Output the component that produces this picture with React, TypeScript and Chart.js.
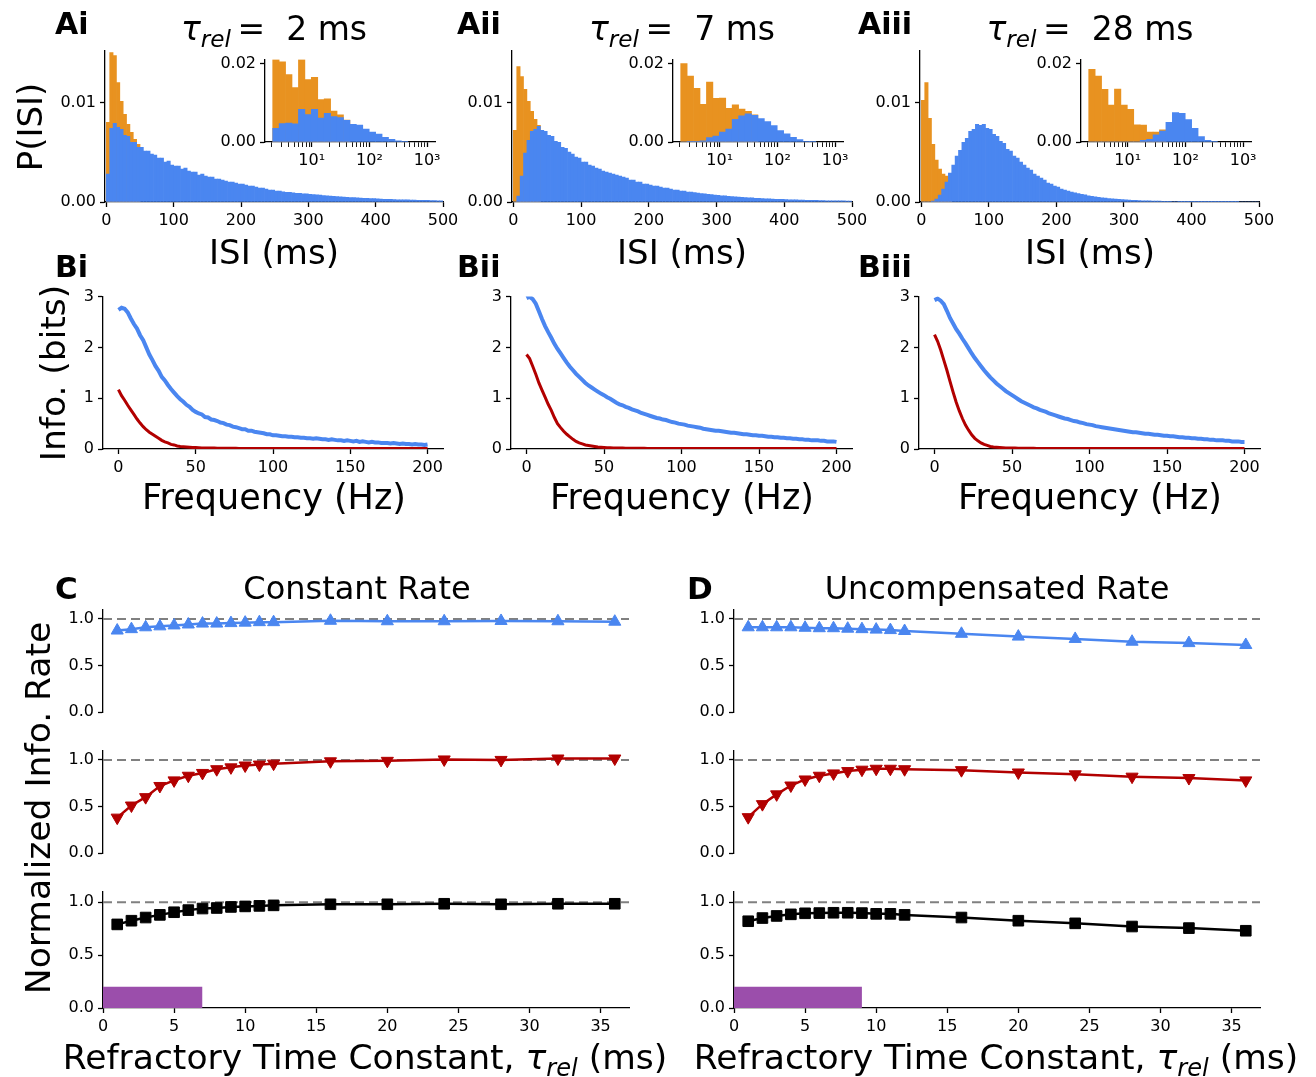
import React, { useEffect, useRef } from "react";
import { Chart, registerables } from "chart.js";

Chart.register(...registerables);

const FONT = "'DejaVu Sans', 'Liberation Sans', sans-serif";
const BLUE = "rgb(74,134,240)";
const ORANGE = "rgb(232,146,32)";
const RED = "rgb(178,0,0)";
const BLACK = "#000000";
const PURPLE = "rgb(155,78,171)";
const GREY = "rgb(128,128,128)";

// ---------------- Data: ISI histograms (5 ms bins, 0-500 ms) ----------------
const ISI_BIN_MS = 5;
const isiTicks = [0, 100, 200, 300, 400, 500];
const isiYTicks = [0, 0.01];

const isiBlueTau2 = [
  0.0028, 0.0074, 0.0079, 0.0075, 0.0073, 0.0067, 0.0066, 0.006, 0.006, 0.0055,
  0.0055, 0.0051, 0.0051, 0.0048, 0.0047, 0.0044, 0.0044, 0.004, 0.0041, 0.0037,
  0.0036, 0.0036, 0.0033, 0.0034, 0.0031, 0.003, 0.003, 0.0027, 0.0028, 0.0026,
  0.0025, 0.0025, 0.0023, 0.0023, 0.0022, 0.0021, 0.002, 0.002, 0.0019, 0.0018,
  0.0018, 0.0017, 0.0016, 0.0016, 0.0015, 0.0014, 0.0014, 0.0013, 0.0012, 0.0012,
  0.0011, 0.0011, 0.00102, 0.00098, 0.00096, 0.00092, 0.00088, 0.00087, 0.00082, 0.00081,
  0.00078, 0.00075, 0.00071, 0.00069, 0.00065, 0.00063, 0.00059, 0.00058, 0.00054, 0.00053,
  0.0005, 0.00048, 0.00045, 0.00044, 0.00041, 0.0004, 0.00037, 0.00036, 0.00034, 0.00034,
  0.00032, 0.0003, 0.00028, 0.00028, 0.00026, 0.00025, 0.00023, 0.00023, 0.00021, 0.00021,
  0.0002, 0.00019, 0.00018, 0.00017, 0.00016, 0.00016, 0.00015, 0.00014, 0.00013, 0.00013,
];
const isiOrangeTau2 = [0.008, 0.015, 0.0147, 0.012, 0.0101, 0.0088, 0.0078, 0.007, 0.0063, 0.0058];

const isiBlueTau7 = [
  0.0, 0.0006, 0.0026, 0.0049, 0.0062, 0.0071, 0.0073, 0.0076, 0.0072, 0.0071,
  0.0067, 0.0066, 0.0061, 0.006, 0.0055, 0.0054, 0.005, 0.0048, 0.0045, 0.0044,
  0.004, 0.004, 0.0037, 0.0036, 0.0034, 0.0033, 0.0031, 0.003, 0.0029, 0.0028,
  0.0027, 0.0026, 0.0025, 0.0024, 0.0022, 0.0022, 0.002, 0.002, 0.0018, 0.0018,
  0.0017, 0.0016, 0.0016, 0.0015, 0.0014, 0.0014, 0.0013, 0.0012, 0.0012, 0.0011,
  0.0011, 0.001, 0.001, 0.00094, 0.0009, 0.00085, 0.00082, 0.00077, 0.00075, 0.0007,
  0.00068, 0.00063, 0.00061, 0.00057, 0.00055, 0.00051, 0.00049, 0.00046, 0.00045, 0.00042,
  0.00041, 0.00038, 0.00037, 0.00034, 0.00033, 0.00031, 0.0003, 0.00028, 0.00027, 0.00026,
  0.00025, 0.00023, 0.00022, 0.00021, 0.0002, 0.00019, 0.00018, 0.00017, 0.00016, 0.00016,
  0.00015, 0.00014, 0.00013, 0.00013, 0.00012, 0.00012, 0.00011, 0.00011, 0.0001, 0.0001,
];
const isiOrangeTau7 = [0.0072, 0.0136, 0.0126, 0.0113, 0.0101, 0.0091, 0.0083, 0.0077];

const isiBlueTau28 = [
  0.0, 0.0, 0.0, 0.0001, 0.0003, 0.0007, 0.0013, 0.002, 0.0029, 0.0037,
  0.0046, 0.0052, 0.006, 0.0064, 0.0071, 0.0073, 0.0078, 0.0077, 0.0078, 0.0074,
  0.0073, 0.0068, 0.0066, 0.0061, 0.0059, 0.0053, 0.0051, 0.0046, 0.0044, 0.004,
  0.0037, 0.0034, 0.0032, 0.0028, 0.0026, 0.0024, 0.0022, 0.0019, 0.0018, 0.0016,
  0.0015, 0.0013, 0.0012, 0.0011, 0.001, 0.00092, 0.00085, 0.00076, 0.00071, 0.00063,
  0.00058, 0.00051, 0.00048, 0.00043, 0.00039, 0.00035, 0.00033, 0.00029, 0.00027, 0.00024,
  0.00022, 0.0002, 0.00018, 0.00016, 0.00015, 0.00013, 0.00012, 0.00011, 0.0001, 0.00009,
  0.00008, 0.00007, 0.00007, 0.00006, 0.00005, 0.00005, 0.00004, 0.00004, 0.00003, 0.00003,
  0.00003, 0.00002, 0.00002, 0.00002, 0.00002, 0.00001, 0.00001, 0.00001, 0.00001, 0.00001,
  0.00001, 0.00001, 0.00001, 0.00001, 0.0, 0.0, 0.0, 0.0, 0.0, 0.0,
];
const isiOrangeTau28 = [0.0102, 0.012, 0.0084, 0.0058, 0.0042, 0.0033, 0.0028, 0.0026, 0.0025];

// ---------------- Data: inset log-binned histograms ----------------
const INSET_LOG_START = 0.324; // log10 of first bin edge (ms)
const INSET_LOG_STEP = 0.1115; // bin width in decades
const INSET_X_MIN = 1.55;
const INSET_X_MAX = 1370;
const insetYTicks = [0, 0.02];
const insetXTicks = [2, 3, 4, 5, 6, 7, 8, 9, 10, 20, 30, 40, 50, 60, 70, 80, 90, 100, 200, 300, 400, 500, 600, 700, 800, 900, 1000];

const logBlueTau2 = [0.0035, 0.0047, 0.0048, 0.0046, 0.0083, 0.007, 0.0083, 0.0061, 0.0073, 0.0065, 0.0062, 0.0055, 0.0045, 0.0043, 0.0033, 0.0025, 0.002, 0.0012, 0.0007, 0.0003, 0.0001];
const logOrangeTau2 = [0.021, 0.0204, 0.0172, 0.0139, 0.021, 0.0159, 0.0165, 0.0108, 0.011, 0.0079, 0.0069, 0.0056];
const logBlueTau7 = [0.0, 0.0001, 0.0002, 0.0003, 0.0011, 0.0015, 0.0025, 0.0033, 0.0058, 0.0067, 0.0072, 0.0068, 0.006, 0.0052, 0.0042, 0.0029, 0.0021, 0.0012, 0.0006, 0.0002, 0.0001];
const logOrangeTau7 = [0.02, 0.0168, 0.0137, 0.0096, 0.0153, 0.0111, 0.0112, 0.0086, 0.0095, 0.0084, 0.0078, 0.0069];
const logBlueTau28 = [0, 0, 0, 0, 0, 0, 0, 0, 0.0004, 0.0007, 0.0018, 0.0028, 0.005, 0.0075, 0.0073, 0.0057, 0.0035, 0.0014, 0.0004, 0.0001];
const logOrangeTau28 = [0.0185, 0.0168, 0.0134, 0.0094, 0.0135, 0.0094, 0.0083, 0.0044, 0.0043, 0.0025, 0.0025, 0.0031];

// ---------------- Data: information spectra (2 Hz steps, 0-200 Hz) ----------------
const FREQ_STEP_HZ = 2;
const freqTicks = [0, 50, 100, 150, 200];
const infoYTicks = [0, 1, 2, 3];

const infoBlueTau2 = [
  2.74, 2.78, 2.76, 2.69, 2.57, 2.46, 2.37, 2.24, 2.14, 2.0,
  1.86, 1.75, 1.63, 1.54, 1.42, 1.35, 1.26, 1.18, 1.11, 1.04,
  0.98, 0.93, 0.87, 0.83, 0.77, 0.73, 0.7, 0.68, 0.63, 0.62,
  0.58, 0.57, 0.55, 0.52, 0.51, 0.48, 0.47, 0.44, 0.43, 0.41,
  0.39, 0.39, 0.36, 0.36, 0.34, 0.33, 0.32, 0.31, 0.29, 0.29,
  0.27, 0.27, 0.26, 0.25, 0.25, 0.24, 0.24, 0.23, 0.23, 0.22,
  0.22, 0.21, 0.21, 0.2, 0.21, 0.2, 0.19, 0.19, 0.18, 0.19,
  0.18, 0.17, 0.17, 0.16, 0.17, 0.16, 0.15, 0.16, 0.14, 0.15,
  0.14, 0.13, 0.14, 0.13, 0.13, 0.12, 0.12, 0.12, 0.11, 0.12,
  0.11, 0.1, 0.11, 0.1, 0.1, 0.09, 0.1, 0.09, 0.09, 0.08,
  0.09,
];
const infoRedTau2 = [
  1.17, 1.05, 0.96, 0.86, 0.77, 0.68, 0.59, 0.51, 0.44, 0.38,
  0.33, 0.29, 0.25, 0.21, 0.17, 0.14, 0.12, 0.09, 0.08, 0.06,
  0.05, 0.045, 0.04, 0.036, 0.03, 0.03, 0.026, 0.022, 0.02, 0.02,
  0.02, 0.018, 0.017, 0.016, 0.016, 0.015, 0.014, 0.014, 0.013, 0.012,
  0.012, 0.012, 0.011, 0.011, 0.011, 0.011, 0.01, 0.01, 0.01, 0.01,
  0.01, 0.011, 0.01, 0.009, 0.01, 0.01, 0.011, 0.01, 0.009, 0.01,
  0.01, 0.01, 0.011, 0.01, 0.009, 0.01, 0.01, 0.011, 0.01, 0.01,
  0.009, 0.01, 0.01, 0.011, 0.01, 0.01, 0.009, 0.01, 0.01, 0.011,
  0.01, 0.01, 0.009, 0.01, 0.011, 0.01, 0.01, 0.009, 0.01, 0.01,
  0.011, 0.01, 0.01, 0.009, 0.01, 0.01, 0.011, 0.01, 0.01, 0.01,
  0.01,
];
const infoBlueTau7 = [
  2.97, 3.0, 2.95, 2.86, 2.71, 2.56, 2.42, 2.3, 2.19, 2.07,
  1.97, 1.88, 1.79, 1.7, 1.62, 1.55, 1.48, 1.42, 1.36, 1.3,
  1.25, 1.21, 1.17, 1.13, 1.09, 1.06, 1.02, 0.99, 0.95, 0.91,
  0.88, 0.86, 0.83, 0.81, 0.78, 0.76, 0.74, 0.71, 0.69, 0.67,
  0.65, 0.63, 0.61, 0.6, 0.58, 0.57, 0.55, 0.53, 0.52, 0.5,
  0.49, 0.48, 0.46, 0.45, 0.44, 0.43, 0.42, 0.4, 0.39, 0.38,
  0.37, 0.36, 0.36, 0.35, 0.34, 0.33, 0.32, 0.32, 0.31, 0.3,
  0.29, 0.29, 0.28, 0.27, 0.27, 0.26, 0.26, 0.25, 0.24, 0.24,
  0.23, 0.23, 0.22, 0.22, 0.21, 0.21, 0.2, 0.2, 0.19, 0.19,
  0.18, 0.18, 0.17, 0.17, 0.17, 0.16, 0.16, 0.15, 0.15, 0.15,
  0.14,
];
const infoRedTau7 = [
  1.86, 1.78, 1.63, 1.47, 1.3, 1.16, 1.02, 0.88, 0.76, 0.62,
  0.5, 0.42, 0.35, 0.29, 0.24, 0.19, 0.15, 0.12, 0.1, 0.08,
  0.07, 0.06, 0.05, 0.04, 0.035, 0.03, 0.025, 0.025, 0.02, 0.02,
  0.02, 0.018, 0.017, 0.016, 0.015, 0.015, 0.014, 0.013, 0.013, 0.012,
  0.012, 0.011, 0.011, 0.011, 0.01, 0.01, 0.011, 0.01, 0.01, 0.009,
  0.01, 0.01, 0.011, 0.01, 0.009, 0.01, 0.01, 0.011, 0.01, 0.01,
  0.009, 0.01, 0.01, 0.011, 0.01, 0.01, 0.009, 0.01, 0.01, 0.011,
  0.01, 0.01, 0.009, 0.01, 0.011, 0.01, 0.01, 0.009, 0.01, 0.01,
  0.011, 0.01, 0.01, 0.009, 0.01, 0.01, 0.011, 0.01, 0.01, 0.01,
  0.009, 0.01, 0.01, 0.011, 0.01, 0.01, 0.009, 0.01, 0.01, 0.01,
  0.01,
];
const infoBlueTau28 = [
  2.93, 2.96, 2.92, 2.85, 2.72, 2.58, 2.47, 2.36, 2.27, 2.17,
  2.08, 1.98, 1.88, 1.79, 1.71, 1.63, 1.55, 1.48, 1.41, 1.35,
  1.29, 1.24, 1.19, 1.14, 1.1, 1.06, 1.02, 0.98, 0.94, 0.91,
  0.88, 0.85, 0.82, 0.8, 0.77, 0.75, 0.73, 0.7, 0.68, 0.66,
  0.64, 0.62, 0.6, 0.59, 0.57, 0.55, 0.54, 0.52, 0.51, 0.49,
  0.48, 0.47, 0.45, 0.44, 0.43, 0.42, 0.41, 0.4, 0.39, 0.38,
  0.37, 0.36, 0.35, 0.34, 0.33, 0.33, 0.32, 0.31, 0.3, 0.3,
  0.29, 0.28, 0.28, 0.27, 0.26, 0.26, 0.25, 0.25, 0.24, 0.23,
  0.23, 0.22, 0.22, 0.21, 0.21, 0.2, 0.2, 0.19, 0.19, 0.18,
  0.18, 0.17, 0.17, 0.17, 0.16, 0.16, 0.15, 0.15, 0.15, 0.14,
  0.14,
];
const infoRedTau28 = [
  2.25, 2.12, 1.95, 1.75, 1.55, 1.33, 1.12, 0.92, 0.75, 0.6,
  0.47, 0.37, 0.28, 0.21, 0.16, 0.12, 0.09, 0.07, 0.05, 0.04,
  0.035, 0.03, 0.025, 0.02, 0.02, 0.02, 0.018, 0.016, 0.015, 0.015,
  0.014, 0.014, 0.013, 0.012, 0.012, 0.011, 0.011, 0.011, 0.01, 0.01,
  0.01, 0.011, 0.01, 0.009, 0.01, 0.01, 0.011, 0.01, 0.009, 0.01,
  0.01, 0.01, 0.011, 0.01, 0.009, 0.01, 0.01, 0.011, 0.01, 0.01,
  0.009, 0.01, 0.01, 0.011, 0.01, 0.01, 0.009, 0.01, 0.01, 0.011,
  0.01, 0.01, 0.009, 0.01, 0.011, 0.01, 0.01, 0.009, 0.01, 0.01,
  0.011, 0.01, 0.01, 0.009, 0.01, 0.01, 0.011, 0.01, 0.01, 0.01,
  0.009, 0.01, 0.01, 0.011, 0.01, 0.01, 0.009, 0.01, 0.01, 0.01,
  0.01,
];

// ---------------- Data: normalized information rate vs tau_rel ----------------
const tauRel = [1, 2, 3, 4, 5, 6, 7, 8, 9, 10, 11, 12, 16, 20, 24, 28, 32, 36];
const tauTicks = [0, 5, 10, 15, 20, 25, 30, 35];
const rateYTicks = [0, 0.5, 1.0];
const constBlue = [0.875, 0.89, 0.91, 0.92, 0.93, 0.94, 0.95, 0.95, 0.955, 0.96, 0.965, 0.965, 0.98, 0.975, 0.975, 0.978, 0.975, 0.97];
const constRed = [0.38, 0.51, 0.6, 0.72, 0.78, 0.83, 0.86, 0.9, 0.92, 0.94, 0.95, 0.96, 0.985, 0.99, 1.005, 1.0, 1.015, 1.015];
const constBlack = [0.79, 0.825, 0.855, 0.88, 0.905, 0.925, 0.94, 0.945, 0.955, 0.96, 0.965, 0.97, 0.98, 0.98, 0.985, 0.98, 0.985, 0.985];
const uncompBlue = [0.91, 0.91, 0.91, 0.91, 0.905, 0.9, 0.9, 0.895, 0.89, 0.885, 0.88, 0.87, 0.84, 0.81, 0.785, 0.755, 0.74, 0.72];
const uncompRed = [0.385, 0.525, 0.63, 0.725, 0.79, 0.83, 0.855, 0.88, 0.895, 0.905, 0.905, 0.9, 0.89, 0.865, 0.845, 0.82, 0.805, 0.78];
const uncompBlack = [0.82, 0.85, 0.87, 0.885, 0.895, 0.897, 0.9, 0.9, 0.897, 0.89, 0.89, 0.88, 0.855, 0.825, 0.8, 0.77, 0.755, 0.73];
const referenceLevel = 1.0;
const shadeHeight = 0.2;
const shadeEndConst = 7;
const shadeEndUncomp = 9;

// ---------------- Layout helpers ----------------
type Rect = { l: number; t: number; w: number; h: number };
type Pad = { L: number; T: number; R: number; B: number };

function makeScale(o: {
  type?: string;
  min: number;
  max: number;
  ticks: number[];
  fmt: (v: number) => string;
  isX: boolean;
  fit: number;
  display?: boolean;
  tickWidth?: any;
}) {
  return {
    type: o.type || "linear",
    display: o.display === false ? false : true,
    min: o.min,
    max: o.max,
    offset: false,
    afterBuildTicks: (s: any) => {
      s.ticks = o.ticks.map((v) => ({ value: v }));
    },
    afterFit: (s: any) => {
      if (o.isX) s.height = o.fit;
      else s.width = o.fit;
    },
    ticks: {
      autoSkip: false,
      maxRotation: 0,
      minRotation: 0,
      padding: 4,
      color: "#000",
      font: { family: FONT, size: 16 },
      callback: (v: any) => o.fmt(Number(v)),
    },
    grid: {
      display: true,
      offset: false,
      drawOnChartArea: false,
      drawTicks: true,
      tickLength: 5,
      tickWidth: o.tickWidth || 1.3,
      tickColor: "#000",
      color: "#000",
    },
    border: { display: true, color: "#000", width: 1.3 },
  };
}

function baseOptions(pad: Pad, xShown: boolean) {
  return {
    responsive: false,
    maintainAspectRatio: false,
    animation: false,
    devicePixelRatio: 1,
    events: [],
    layout: { padding: { left: 0, top: pad.T, right: pad.R, bottom: xShown ? 0 : pad.B } },
    plugins: { legend: { display: false }, tooltip: { enabled: false }, title: { display: false } },
  };
}

function ChartCanvas({ rect, pad, make }: { rect: Rect; pad: Pad; make: () => any }) {
  const ref = useRef<HTMLCanvasElement | null>(null);
  const W = Math.round(rect.w + pad.L + pad.R);
  const H = Math.round(rect.h + pad.T + pad.B);
  useEffect(() => {
    if (!ref.current) return;
    const chart = new Chart(ref.current, make());
    return () => chart.destroy();
  }, []);
  return (
    <canvas
      ref={ref}
      width={W}
      height={H}
      style={{ position: "absolute", left: rect.l - pad.L, top: rect.t - pad.T, width: W, height: H }}
    />
  );
}

const fmt2 = (v: number) => v.toFixed(2);
const fmt1 = (v: number) => v.toFixed(1);
const fmtInt = (v: number) => String(Math.round(v));
const fmtPow = (v: number) => (v === 10 ? "10\u00b9" : v === 100 ? "10\u00b2" : v === 1000 ? "10\u00b3" : "");

// ---------------- Chart builders ----------------
const PAD_A: Pad = { L: 70, T: 12, R: 22, B: 32 };
function isiConfig(blue: number[], orange: number[]) {
  return () => ({
    type: "bar",
    data: {
      datasets: [
        {
          data: blue.map((y, i) => ({ x: (i + 0.5) * ISI_BIN_MS, y })),
          backgroundColor: BLUE,
          borderWidth: 0,
          grouped: false,
          barPercentage: 1,
          categoryPercentage: 1,
        },
        {
          data: orange.map((y, i) => ({ x: (i + 0.5) * ISI_BIN_MS, y })),
          backgroundColor: ORANGE,
          borderWidth: 0,
          grouped: false,
          barPercentage: 1,
          categoryPercentage: 1,
        },
      ],
    },
    options: {
      ...baseOptions(PAD_A, true),
      scales: {
        x: makeScale({ min: -2, max: 500, ticks: isiTicks, fmt: fmtInt, isX: true, fit: PAD_A.B }),
        y: makeScale({ min: 0, max: 0.0152, ticks: isiYTicks, fmt: fmt2, isX: false, fit: PAD_A.L }),
      },
    },
  });
}

const PAD_IN: Pad = { L: 52, T: 12, R: 16, B: 32 };
function insetConfig(blue: number[], orange: number[], rect: Rect) {
  const center = (i: number) => Math.pow(10, INSET_LOG_START + (i + 0.5) * INSET_LOG_STEP);
  const thickness = (rect.w / Math.log10(INSET_X_MAX / INSET_X_MIN)) * INSET_LOG_STEP;
  return () => ({
    type: "bar",
    data: {
      datasets: [
        {
          data: blue.map((y, i) => ({ x: center(i), y })),
          backgroundColor: BLUE,
          borderWidth: 0,
          grouped: false,
          barThickness: thickness,
        },
        {
          data: orange.map((y, i) => ({ x: center(i), y })),
          backgroundColor: ORANGE,
          borderWidth: 0,
          grouped: false,
          barThickness: thickness,
        },
      ],
    },
    options: {
      ...baseOptions(PAD_IN, true),
      scales: {
        x: makeScale({
          type: "logarithmic",
          min: INSET_X_MIN,
          max: INSET_X_MAX,
          ticks: insetXTicks,
          fmt: fmtPow,
          isX: true,
          fit: PAD_IN.B,
          tickWidth: (ctx: any) => (ctx.tick && [10, 100, 1000].includes(ctx.tick.value) ? 1.3 : 0.9),
        }),
        y: makeScale({ min: 0, max: 0.021, ticks: insetYTicks, fmt: fmt2, isX: false, fit: PAD_IN.L }),
      },
    },
  });
}

const PAD_B: Pad = { L: 40, T: 12, R: 22, B: 32 };
function infoConfig(blue: number[], red: number[]) {
  return () => ({
    type: "line",
    data: {
      datasets: [
        {
          data: red.map((y, i) => ({ x: i * FREQ_STEP_HZ, y })),
          borderColor: RED,
          borderWidth: 3,
          pointRadius: 0,
          tension: 0,
          fill: false,
        },
        {
          data: blue.map((y, i) => ({ x: i * FREQ_STEP_HZ, y })),
          borderColor: BLUE,
          borderWidth: 4,
          pointRadius: 0,
          tension: 0,
          fill: false,
        },
      ],
    },
    options: {
      ...baseOptions(PAD_B, true),
      scales: {
        x: makeScale({ min: -10, max: 210, ticks: freqTicks, fmt: fmtInt, isX: true, fit: PAD_B.B }),
        y: makeScale({ min: 0, max: 3, ticks: infoYTicks, fmt: fmtInt, isX: false, fit: PAD_B.L }),
      },
    },
  });
}

const PAD_C_TOP: Pad = { L: 50, T: 12, R: 20, B: 14 };
const PAD_C_BOTTOM: Pad = { L: 50, T: 12, R: 20, B: 32 };
function rateConfig(values: number[], color: string, style: string, rotation: number, radius: number, showX: boolean, shadeEnd: number | null) {
  const pad = showX ? PAD_C_BOTTOM : PAD_C_TOP;
  return () => {
    const datasets: any[] = [
      {
        data: values.map((y, i) => ({ x: tauRel[i], y })),
        borderColor: color,
        backgroundColor: color,
        borderWidth: 2.5,
        pointStyle: style,
        pointRotation: rotation,
        pointRadius: radius,
        pointBackgroundColor: color,
        pointBorderColor: color,
        pointBorderWidth: 1,
        tension: 0,
        fill: false,
      },
      {
        data: [
          { x: 0, y: referenceLevel },
          { x: 37, y: referenceLevel },
        ],
        borderColor: GREY,
        borderWidth: 2,
        borderDash: [9, 5],
        pointRadius: 0,
        fill: false,
      },
    ];
    if (shadeEnd !== null) {
      datasets.push({
        data: [
          { x: 0, y: shadeHeight },
          { x: shadeEnd, y: shadeHeight },
        ],
        borderWidth: 0,
        borderColor: "rgba(0,0,0,0)",
        backgroundColor: PURPLE,
        pointRadius: 0,
        fill: "origin",
      });
    }
    return {
      type: "line",
      data: { datasets },
      options: {
        ...baseOptions(pad, showX),
        scales: {
          x: makeScale({ min: 0, max: 37, ticks: tauTicks, fmt: fmtInt, isX: true, fit: pad.B, display: showX }),
          y: makeScale({ min: 0, max: 1.1, ticks: rateYTicks, fmt: fmt1, isX: false, fit: pad.L }),
        },
      },
    };
  };
}

// ---------------- Text helpers ----------------
function Label({ x, y, size, bold, rotate, left, children }: any) {
  const tx = left ? "0" : "-50%";
  return (
    <div
      style={{
        position: "absolute",
        left: x,
        top: y,
        transform: `translate(${tx}, -50%)` + (rotate ? ` rotate(${rotate}deg)` : ""),
        fontFamily: FONT,
        fontSize: size,
        fontWeight: bold ? 700 : 400,
        lineHeight: 1,
        whiteSpace: "nowrap",
        color: "#000",
      }}
    >
      {children}
    </div>
  );
}

function Tau() {
  return (
    <span>
      <span style={{ fontStyle: "italic" }}>τ</span>
      <span style={{ fontStyle: "italic", fontSize: "0.7em", position: "relative", top: "0.3em" }}>rel</span>
    </span>
  );
}

// ---------------- Geometry ----------------
const A_RECTS: Rect[] = [
  { l: 105, t: 49, w: 338, h: 153 },
  { l: 512, t: 49, w: 340, h: 153 },
  { l: 920, t: 49, w: 339, h: 153 },
];
const IN_RECTS: Rect[] = [
  { l: 265, t: 58, w: 170, h: 84 },
  { l: 673, t: 58, w: 170, h: 84 },
  { l: 1081, t: 58, w: 170, h: 84 },
];
const B_RECTS: Rect[] = [
  { l: 103, t: 295, w: 340, h: 154 },
  { l: 511, t: 295, w: 341, h: 154 },
  { l: 919, t: 295, w: 341, h: 154 },
];
const C_LEFT = 103;
const D_LEFT = 734;
const CD_W = 526;
const ROW_TOPS = [608, 749, 890];
const ROW_H = 117.5;

const colCentersA = [274, 682, 1090];
const panelLetterX = [55, 457, 858];
const tauValues = ["2", "7", "28"];
const aLetters = ["Ai", "Aii", "Aiii"];
const bLetters = ["Bi", "Bii", "Biii"];

const isiBlue = [isiBlueTau2, isiBlueTau7, isiBlueTau28];
const isiOrange = [isiOrangeTau2, isiOrangeTau7, isiOrangeTau28];
const logBlue = [logBlueTau2, logBlueTau7, logBlueTau28];
const logOrange = [logOrangeTau2, logOrangeTau7, logOrangeTau28];
const infoBlue = [infoBlueTau2, infoBlueTau7, infoBlueTau28];
const infoRed = [infoRedTau2, infoRedTau7, infoRedTau28];

export default function App() {
  const rows = [
    { c: constBlue, d: uncompBlue, color: BLUE, style: "triangle", rot: 0, r: 7 },
    { c: constRed, d: uncompRed, color: RED, style: "triangle", rot: 180, r: 7 },
    { c: constBlack, d: uncompBlack, color: BLACK, style: "rect", rot: 0, r: 7.5 },
  ];
  return (
    <div
      style={{
        position: "absolute",
        left: 0,
        top: 0,
        width: 1316,
        height: 1077,
        overflow: "hidden",
        background: "#ffffff",
      }}
    >
      {A_RECTS.map((rect, k) => (
        <ChartCanvas key={"a" + k} rect={rect} pad={PAD_A} make={isiConfig(isiBlue[k], isiOrange[k])} />
      ))}
      {IN_RECTS.map((rect, k) => (
        <ChartCanvas key={"in" + k} rect={rect} pad={PAD_IN} make={insetConfig(logBlue[k], logOrange[k], rect)} />
      ))}
      {B_RECTS.map((rect, k) => (
        <ChartCanvas key={"b" + k} rect={rect} pad={PAD_B} make={infoConfig(infoBlue[k], infoRed[k])} />
      ))}
      {rows.map((row, k) => {
        const showX = k === 2;
        const pad = showX ? PAD_C_BOTTOM : PAD_C_TOP;
        const rc: Rect = { l: C_LEFT, t: ROW_TOPS[k], w: CD_W, h: ROW_H };
        const rd: Rect = { l: D_LEFT, t: ROW_TOPS[k], w: CD_W, h: ROW_H };
        return (
          <React.Fragment key={"cd" + k}>
            <ChartCanvas rect={rc} pad={pad} make={rateConfig(row.c, row.color, row.style, row.rot, row.r, showX, showX ? shadeEndConst : null)} />
            <ChartCanvas rect={rd} pad={pad} make={rateConfig(row.d, row.color, row.style, row.rot, row.r, showX, showX ? shadeEndUncomp : null)} />
          </React.Fragment>
        );
      })}

      {aLetters.map((t, k) => (
        <Label key={"al" + k} x={panelLetterX[k]} y={24} size={30} bold left>
          {t}
        </Label>
      ))}
      {bLetters.map((t, k) => (
        <Label key={"bl" + k} x={panelLetterX[k]} y={267} size={30} bold left>
          {t}
        </Label>
      ))}
      {tauValues.map((v, k) => (
        <Label key={"tt" + k} x={colCentersA[k]} y={28} size={33}>
          <Tau />
          {"\u2009=\u00a0\u00a0" + v + " ms"}
        </Label>
      ))}
      {colCentersA.map((x, k) => (
        <Label key={"isi" + k} x={x} y={252} size={34}>
          ISI (ms)
        </Label>
      ))}
      {colCentersA.map((x, k) => (
        <Label key={"fq" + k} x={x} y={497} size={35}>
          Frequency (Hz)
        </Label>
      ))}
      <Label x={30} y={127} size={34} rotate={-90}>
        P(ISI)
      </Label>
      <Label x={53} y={373} size={34.5} rotate={-90}>
        Info. (bits)
      </Label>

      <Label x={55} y={588} size={31} bold left>
        C
      </Label>
      <Label x={687} y={588} size={31} bold left>
        D
      </Label>
      <Label x={357} y={588} size={32}>
        Constant Rate
      </Label>
      <Label x={997} y={588} size={32}>
        Uncompensated Rate
      </Label>
      <Label x={38} y={808} size={34.5} rotate={-90}>
        Normalized Info. Rate
      </Label>
      <Label x={365} y={1057} size={34.5}>
        Refractory Time Constant, <Tau /> (ms)
      </Label>
      <Label x={996} y={1057} size={34.5}>
        Refractory Time Constant, <Tau /> (ms)
      </Label>
    </div>
  );
}
